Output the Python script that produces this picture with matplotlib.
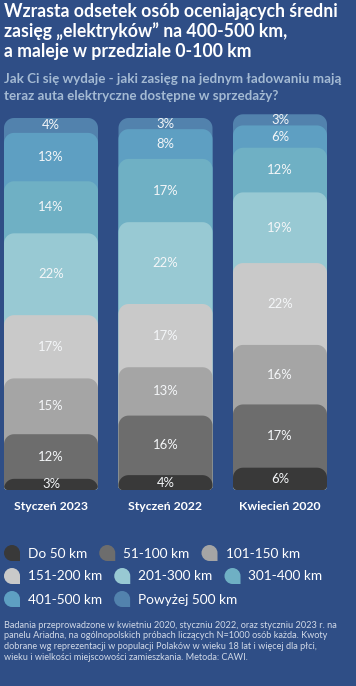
import numpy as np
import matplotlib
matplotlib.use("Agg")
import matplotlib.pyplot as plt
from matplotlib.patches import Polygon, PathPatch
from matplotlib.path import Path

# ---------------- data ----------------
periods = ["Styczeń 2023", "Styczeń 2022", "Kwiecień 2020"]
categories = ["Do 50 km", "51-100 km", "101-150 km", "151-200 km",
              "201-300 km", "301-400 km", "401-500 km", "Powyżej 500 km"]
v_2023 = [3, 12, 15, 17, 22, 14, 13, 4]
v_2022 = [4, 16, 13, 17, 22, 17, 8, 3]
v_2020 = [6, 17, 16, 22, 19, 12, 6, 3]
values = [v_2023, v_2022, v_2020]
colors = ["#393939", "#6d6d6d", "#a5a5a5", "#c9c9c9",
          "#98c9d3", "#6fb0c4", "#5e9fc2", "#5282ad"]

title_lines = ["Wzrasta odsetek osób oceniających średni",
               "zasięg „elektryków” na 400-500 km,",
               "a maleje w przedziale 0-100 km"]
subtitle_lines = ["Jak Ci się wydaje - jaki zasięg na jednym ładowaniu mają",
                  "teraz auta elektryczne dostępne w sprzedaży?"]
footnote_lines = ["Badania przeprowadzone w kwietniu 2020, styczniu 2022, oraz styczniu 2023 r. na",
                  "panelu Ariadna, na ogólnopolskich próbach liczących N=1000 osób każda. Kwoty",
                  "dobrane wg reprezentacji w populacji Polaków w wieku 18 lat i więcej dla płci,",
                  "wieku i wielkości miejscowości zamieszkania. Metoda: CAWI."]

BG = "#2f4e86"
W, H = 356, 686
fig = plt.figure(figsize=(W / 100, H / 100), dpi=100)
fig.patch.set_facecolor(BG)
plt.rcParams['font.family'] = ['Lato', 'DejaVu Sans']

# ---------------- bars axes ----------------
px_per_x = 114.5
px_per_y = 3.72
ymax = 102.0
bottom_px = 490
x0_px = 51
ax = fig.add_axes([0, (H - bottom_px) / H, 1, ymax * px_per_y / H])
ax.set_xlim(-x0_px / px_per_x, (W - x0_px) / px_per_x)
ax.set_ylim(0, ymax)
ax.axis("off")
ax.patch.set_alpha(0)

bar_w = 94 / px_per_x


def rounded_bar(xc, y1, rt, rb, n=12):
    """polygon in data coords, radii in pixels"""
    xl, xr = xc - bar_w / 2, xc + bar_w / 2
    rtx, rty = rt / px_per_x, rt / px_per_y
    rbx, rby = rb / px_per_x, rb / px_per_y
    pts = []
    for a in np.linspace(np.pi, 1.5 * np.pi, n):
        pts.append((xl + rbx + rbx * np.cos(a), rby + rby * np.sin(a)))
    for a in np.linspace(1.5 * np.pi, 2 * np.pi, n):
        pts.append((xr - rbx + rbx * np.cos(a), rby + rby * np.sin(a)))
    for a in np.linspace(0, 0.5 * np.pi, n):
        pts.append((xr - rtx + rtx * np.cos(a), y1 - rty + rty * np.sin(a)))
    for a in np.linspace(0.5 * np.pi, np.pi, n):
        pts.append((xl + rtx + rtx * np.cos(a), y1 - rty + rty * np.sin(a)))
    return pts


for i, vals in enumerate(values):
    cum = np.cumsum(vals)
    for j in range(len(vals) - 1, -1, -1):
        poly = Polygon(rounded_bar(i, cum[j], 10, 4), closed=True,
                       facecolor=colors[j], edgecolor="none")
        ax.add_patch(poly)
    for j in range(len(vals)):
        yc = cum[j] - vals[j] / 2
        ax.text(i, yc, f"{vals[j]}%", ha="center", va="center",
                color="#f4f6f8", fontsize=9.4, family=['Lato', 'DejaVu Sans'])

# ---------------- overlay (pixel coords) ----------------
ov = fig.add_axes([0, 0, 1, 1])
ov.set_xlim(0, W)
ov.set_ylim(H, 0)
ov.axis("off")
ov.patch.set_alpha(0)

for y, line in zip([17.3, 37.3, 56.8], title_lines):
    ov.text(4, y, line, ha="left", va="baseline", color="white",
            fontsize=12.7, fontweight="bold")
for y, line in zip([83, 100.5], subtitle_lines):
    ov.text(4, y, line, ha="left", va="baseline",
            color="#a4bad3", fontsize=9.6, fontweight="bold")

# period labels
for i, p in enumerate(periods):
    xpx = x0_px + i * px_per_x
    ov.text(xpx, 510, p, ha="center", va="baseline", color="white",
            fontsize=8.8, fontweight="bold")

# legend with flow layout
renderer = fig.canvas.get_renderer()


def marker(cx, cy, r, color):
    k = 0.5523
    verts = [
        (cx + r, cy),
        (cx + r, cy + r),
        (cx, cy + r),
        (cx - k * r, cy + r), (cx - r, cy + k * r), (cx - r, cy),
        (cx - r, cy - k * r), (cx - k * r, cy - r), (cx, cy - r),
        (cx + k * r, cy - r), (cx + r, cy - k * r), (cx + r, cy),
        (cx + r, cy),
    ]
    codes = [Path.MOVETO, Path.LINETO, Path.LINETO,
             Path.CURVE4, Path.CURVE4, Path.CURVE4,
             Path.CURVE4, Path.CURVE4, Path.CURVE4,
             Path.CURVE4, Path.CURVE4, Path.CURVE4,
             Path.CLOSEPOLY]
    ov.add_patch(PathPatch(Path(verts, codes), facecolor=color, edgecolor="none"))


rows = [[0, 1, 2], [3, 4, 5], [6, 7]]
row_y = [553, 576, 599]
for r, idxs in enumerate(rows):
    x = 4
    for k in idxs:
        marker(x + 8, row_y[r], 8, colors[k])
        t = ov.text(x + 24, row_y[r] + 4.5, categories[k], ha="left",
                    va="baseline", color="white", fontsize=9.8)
        bb = t.get_window_extent(renderer=renderer)
        x = x + 24 + bb.width + 12

for y, line in zip([628, 638.5, 649, 659.5], footnote_lines):
    ov.text(4, y, line, ha="left", va="baseline", color="#d2dae8",
            fontsize=6.6)

fig.savefig("out.png", dpi=100, facecolor=BG)
